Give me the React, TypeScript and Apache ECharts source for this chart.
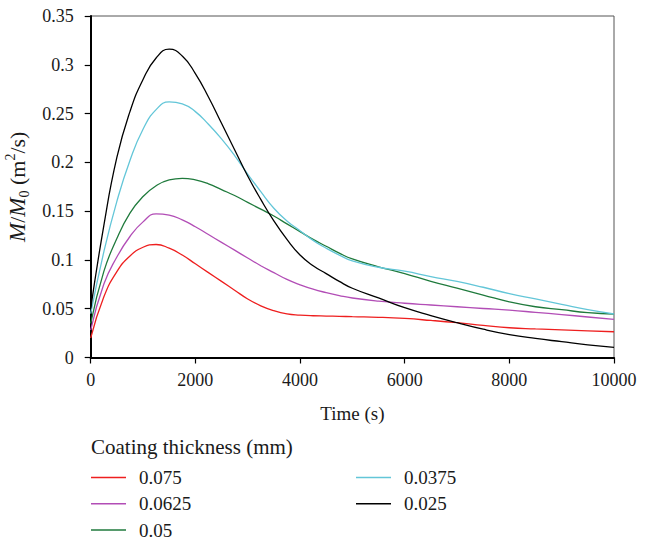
import React, { useEffect, useRef } from "react";
import * as echarts from "echarts";

const times = [
  0, 250, 500, 750, 1000, 1250, 1500, 1750, 2000, 2250, 2500, 2750, 3000, 3250, 3500, 3750, 4000, 4250, 4500, 4750, 5000,
  5500, 6000, 6500, 7000, 7500, 8000, 8500, 9000, 9500, 10000,
];

const seriesNames = ["0.075", "0.0625", "0.05", "0.0375", "0.025"];

const red075 = [
  0.02, 0.062, 0.088, 0.104, 0.113, 0.1158, 0.112, 0.105, 0.096, 0.087, 0.078, 0.069, 0.06, 0.053, 0.048, 0.0448, 0.0435, 0.0428, 0.0425, 0.0422, 0.0418,
  0.0412, 0.04, 0.038, 0.0357, 0.033, 0.0305, 0.0293, 0.0283, 0.0273, 0.0264,
];
const purple0625 = [
  0.028, 0.075, 0.103, 0.124, 0.139, 0.1472, 0.146, 0.141, 0.134, 0.126, 0.118, 0.11, 0.102, 0.094, 0.087, 0.08, 0.0745, 0.07, 0.0665, 0.0635, 0.061,
  0.0578, 0.0556, 0.0538, 0.052, 0.0502, 0.0485, 0.0463, 0.044, 0.0415, 0.039,
];
const green05 = [
  0.035, 0.088, 0.122, 0.148, 0.165, 0.176, 0.182, 0.1836, 0.182, 0.178, 0.172, 0.166, 0.159, 0.152, 0.145, 0.137, 0.129, 0.121, 0.114, 0.107, 0.101,
  0.093, 0.086, 0.078, 0.071, 0.064, 0.057, 0.052, 0.049, 0.046, 0.0446,
];
const cyan0375 = [
  0.045, 0.108, 0.16, 0.202, 0.234, 0.254, 0.262, 0.26, 0.252, 0.239, 0.224, 0.207, 0.188, 0.17, 0.153, 0.14, 0.13, 0.12, 0.112, 0.105, 0.099,
  0.0925, 0.0885, 0.083, 0.078, 0.072, 0.0655, 0.06, 0.0545, 0.049, 0.0446,
];
const black025 = [
  0.05, 0.135, 0.205, 0.252, 0.285, 0.307, 0.316, 0.309, 0.291, 0.267, 0.24, 0.213, 0.186, 0.162, 0.14, 0.121, 0.105, 0.094, 0.086, 0.078, 0.071,
  0.061, 0.051, 0.043, 0.0357, 0.029, 0.0235, 0.0195, 0.0162, 0.013, 0.0104,
];

const yTicks = { min: 0, max: 0.35, interval: 0.05 };
const xTicks = { min: 0, max: 10000, interval: 2000 };

const allValues = [red075, purple0625, green05, cyan0375, black025];
const colors = ["#ee1f1f", "#b24db6", "#1f7a3c", "#63c6d8", "#000000"];

const FONT = "'Liberation Serif', 'Times New Roman', serif";
const TXT = "#1a1a1a";

export default function App() {
  const ref = useRef<HTMLDivElement>(null);
  useEffect(() => {
    document.body.style.margin = "0";
    const chart = echarts.init(ref.current!, null, { renderer: "svg" });
    const series = seriesNames.map((name, i) => ({
      name,
      type: "line",
      data: times.map((t, j) => [t, allValues[i][j]]),
      smooth: 0.5,
      symbol: "none",
      lineStyle: { color: colors[i], width: 1.3 },
      itemStyle: { color: colors[i] },
    }));
    const legendPos = [
      { left: 91, top: 468 },
      { left: 91, top: 494.3 },
      { left: 91, top: 520.6 },
      { left: 356, top: 468 },
      { left: 356, top: 494.3 },
    ];
    const legends = seriesNames.map((name, i) => ({
      orient: "vertical",
      padding: 0,
      left: legendPos[i].left,
      top: legendPos[i].top,
      itemWidth: 35,
      itemHeight: 1.5,
      icon: "rect",
      data: [name],
      textStyle: { fontFamily: FONT, fontSize: 19, color: TXT, padding: [0, 0, 0, 8] },
    }));
    chart.setOption({
      animation: false,
      backgroundColor: "#ffffff",
      grid: {
        left: 90.7,
        top: 16,
        right: 38,
        bottom: 183.5,
        show: true,
        borderColor: "#555555",
        borderWidth: 1,
        containLabel: false,
        outerBoundsMode: "none",
      },
      xAxis: {
        type: "value",
        min: xTicks.min,
        max: xTicks.max,
        interval: xTicks.interval,
        name: "Time (s)",
        nameLocation: "middle",
        nameGap: 46,
        nameTextStyle: { fontFamily: FONT, fontSize: 19, color: TXT },
        axisLine: { show: true, onZero: false, lineStyle: { color: "#000", width: 2 } },
        axisTick: { show: true, length: 6, lineStyle: { color: "#000", width: 1.2 } },
        axisLabel: { fontFamily: FONT, fontSize: 18, color: TXT, margin: 13, formatter: (v: number) => String(v) },
        splitLine: { show: false },
      },
      yAxis: {
        type: "value",
        min: yTicks.min,
        max: yTicks.max,
        interval: yTicks.interval,
        name: "{i|M}{n|/}{i|M}{sub|0}{n| (m}{sup|2}{n|/s)}",
        nameLocation: "middle",
        nameGap: 46,
        nameRotate: 90,
        nameTextStyle: {
          fontFamily: FONT,
          fontSize: 22,
          color: TXT,
          rich: {
            i: { fontFamily: FONT, fontSize: 23, fontStyle: "italic", color: TXT, lineHeight: 28, verticalAlign: "middle" },
            n: { fontFamily: FONT, fontSize: 22, color: TXT, lineHeight: 28, verticalAlign: "middle" },
            sub: { fontFamily: FONT, fontSize: 14, color: TXT, lineHeight: 28, verticalAlign: "bottom" },
            sup: { fontFamily: FONT, fontSize: 14, color: TXT, lineHeight: 28, verticalAlign: "top" },
          },
        },
        axisLine: { show: true, onZero: false, lineStyle: { color: "#000", width: 2 } },
        axisTick: { show: true, length: 6, lineStyle: { color: "#000", width: 1.2 } },
        axisLabel: { fontFamily: FONT, fontSize: 18, color: TXT, margin: 17 },
        splitLine: { show: false },
      },
      legend: legends,
      graphic: [
        {
          type: "text",
          left: 91,
          top: 436.5,
          style: { text: "Coating thickness (mm)", fontFamily: FONT, fontSize: 21, fill: TXT },
        },
      ],
      series,
    });
    return () => chart.dispose();
  }, []);
  return <div ref={ref} style={{ width: 652, height: 541 }} />;
}
